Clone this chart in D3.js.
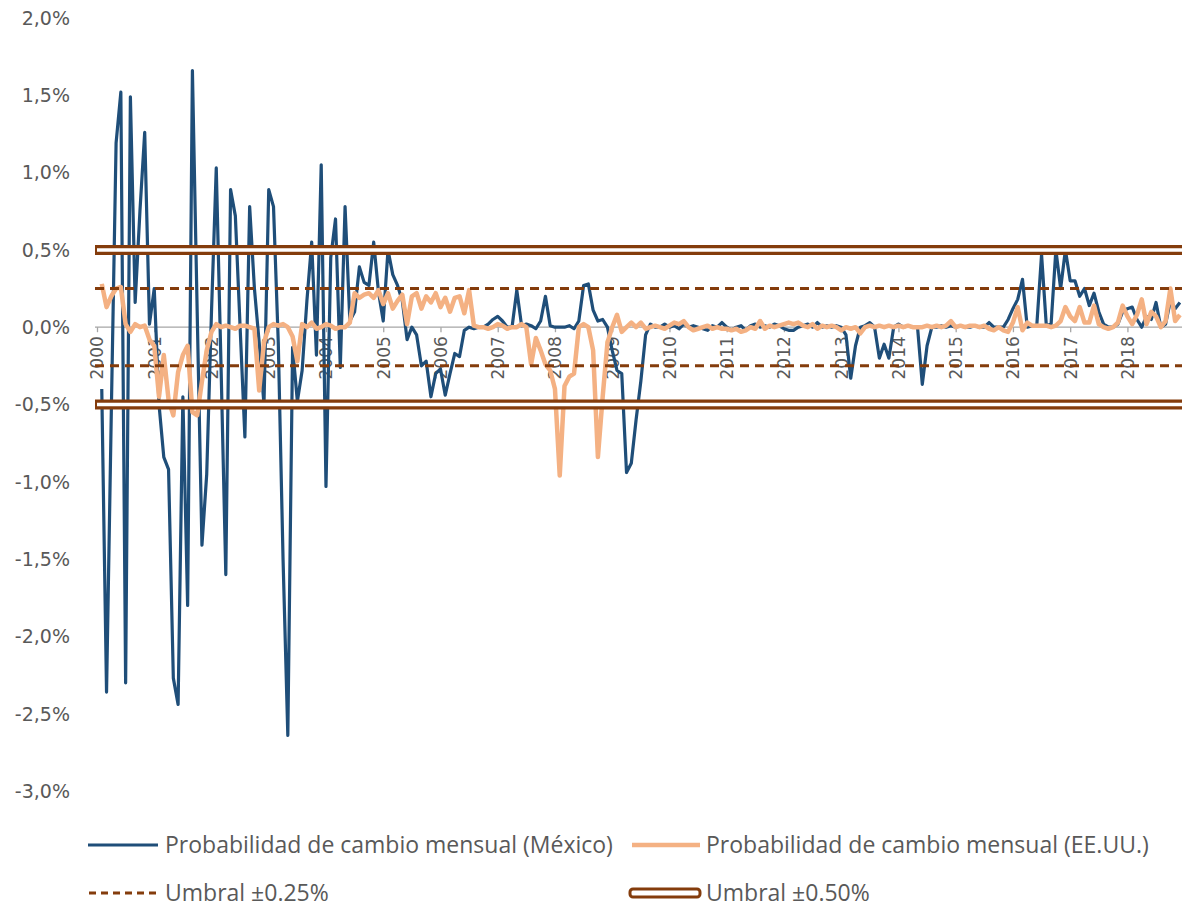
<!DOCTYPE html>
<html>
<head>
<meta charset="utf-8">
<script src="https://cdn.jsdelivr.net/npm/d3@7"></script>
<style>
  html, body { margin: 0; padding: 0; background: #ffffff; }
  svg { display: block; }
</style>
</head>
<body>
<div id="chart"></div>
<script>
// ---------- DATA (monthly, starting Feb 2000) ----------
const startYear = 2000;
const startMonthOffset = 1; // first value = Feb 2000 (month index 1 from Jan 2000)

const mexico = [
  -0.40,-2.36,-0.55,1.19,1.52,-2.30,1.49,0.16,0.75,1.26,0.02,0.25,
  -0.50,-0.84,-0.92,-2.27,-2.44,-0.45,-1.80,1.66,0.10,-1.41,-0.95,0.10,
  1.03,-0.25,-1.60,0.89,0.72,0.00,-0.71,0.78,0.25,-0.10,-0.50,0.89,
  0.78,-0.10,-1.50,-2.64,-0.13,-0.48,-0.28,0.17,0.55,-0.18,1.05,-1.03,
  0.45,0.70,-0.26,0.78,0.04,0.10,0.39,0.29,0.27,0.55,0.23,0.04,
  0.50,0.34,0.27,0.17,-0.08,0.00,-0.05,-0.25,-0.22,-0.45,-0.30,-0.27,
  -0.44,-0.30,-0.17,-0.19,-0.02,0.00,-0.01,0.00,0.00,0.02,0.05,0.07,
  0.04,0.00,0.00,0.24,0.01,0.02,0.01,-0.01,0.04,0.20,0.01,0.00,
  0.00,0.00,0.01,-0.01,0.04,0.27,0.28,0.11,0.04,0.05,0.00,-0.15,
  -0.28,-0.30,-0.94,-0.88,-0.60,-0.35,-0.05,0.02,0.00,
  0.00,0.02,0.00,0.01,-0.01,0.02,0.00,0.01,0.00,-0.01,-0.02,0.01,
  0.00,0.03,0.00,-0.02,0.00,0.01,-0.02,0.01,0.02,0.00,0.01,0.00,
  0.02,0.01,-0.01,-0.02,-0.02,0.00,0.01,0.02,0.00,0.03,0.00,0.01,
  0.00,0.01,0.00,-0.05,-0.33,-0.12,0.00,0.01,0.03,0.00,-0.20,-0.11,
  -0.20,0.00,0.02,0.00,0.01,0.00,0.00,-0.37,-0.12,0.00,0.00,0.01,
  0.00,0.01,0.00,0.01,0.00,0.00,0.01,0.00,0.00,0.03,0.00,
  0.00,0.00,0.05,0.12,0.18,0.31,0.00,0.01,0.01,0.47,0.01,0.02,
  0.50,0.25,0.50,0.30,0.30,0.20,0.25,0.14,0.22,0.10,0.02,0.00,
  0.00,0.02,0.10,0.12,0.13,0.05,0.00,0.07,0.05,0.16,0.00,0.02,
  0.17,0.12,0.16
];

const usa = [
  0.28,0.13,0.20,0.25,0.26,0.02,-0.03,0.02,0.00,0.01,-0.08,-0.12,
  -0.45,-0.18,-0.47,-0.57,-0.29,-0.18,-0.12,-0.55,-0.57,-0.35,-0.15,-0.03,
  0.02,0.00,0.01,0.00,-0.01,0.01,0.01,0.00,-0.01,-0.41,-0.10,0.00,
  0.02,0.01,0.02,0.00,-0.06,-0.22,0.02,0.00,0.03,-0.01,0.00,0.02,
  0.01,-0.01,0.00,0.00,0.03,0.22,0.19,0.21,0.22,0.19,0.24,0.15,
  0.22,0.12,0.17,0.21,0.02,0.20,0.22,0.12,0.20,0.16,0.22,0.13,
  0.19,0.10,0.19,0.20,0.09,0.24,0.01,0.00,0.00,-0.01,0.00,0.02,
  0.01,-0.01,0.00,0.00,0.02,0.00,-0.24,-0.07,-0.15,-0.24,-0.28,-0.40,
  -0.96,-0.38,-0.32,-0.30,0.00,0.02,0.00,-0.15,-0.84,-0.45,-0.10,0.00,
  0.08,-0.03,0.00,0.03,0.00,0.03,-0.01,0.00,0.01,
  0.00,-0.01,0.01,0.03,0.02,0.04,0.00,-0.02,-0.01,0.00,0.01,-0.01,
  0.00,-0.01,-0.01,-0.02,-0.01,-0.03,-0.02,0.00,-0.01,0.04,-0.01,0.01,
  0.00,0.01,0.02,0.03,0.02,0.03,0.01,0.00,0.02,-0.01,0.01,0.00,
  0.01,0.00,-0.02,0.00,-0.01,0.00,-0.04,0.00,0.01,0.00,0.01,0.00,
  0.01,0.00,0.01,0.00,0.01,0.00,0.00,0.00,0.01,0.00,0.01,0.00,
  0.01,0.04,0.00,0.01,0.00,0.01,0.01,0.00,0.01,-0.01,-0.02,
  0.00,-0.02,-0.03,0.03,0.13,-0.02,0.03,0.01,0.01,0.01,0.01,0.00,
  0.01,0.04,0.13,0.07,0.04,0.13,0.03,0.03,0.14,0.02,0.00,-0.01,
  0.00,0.03,0.14,0.07,0.02,0.08,0.18,0.02,0.10,0.07,0.00,0.04,
  0.25,0.04,0.08
];

const yTicks = [2.0, 1.5, 1.0, 0.5, 0.0, -0.5, -1.0, -1.5, -2.0, -2.5, -3.0];
const yearTicks = d3.range(2000, 2019);
const thresholdInner = 0.25;
const thresholdOuter = 0.50;
const legendLabels = [
  "Probabilidad de cambio mensual (México)",
  "Probabilidad de cambio mensual (EE.UU.)",
  "Umbral \u00b10.25%",
  "Umbral \u00b10.50%"
];

// ---------- STYLE ----------
const W = 1182, H = 907;
const cBlue = "#1f4e79", cOrange = "#f4b183", cBrown = "#843c0c", cText = "#595959", cAxis = "#a6a6a6";
const plotLeft = 95, plotRight = 1182;

const svg = d3.select("#chart").append("svg")
  .attr("width", W).attr("height", H)
  .style("font-family", "'DejaVu Sans', sans-serif");

const x = d3.scaleLinear().domain([0, 227.44]).range([97, 1182]);
const y = d3.scaleLinear().domain([-3, 2]).range([791, 18]);

svg.append("defs").append("clipPath").attr("id", "clip")
  .append("rect").attr("x", plotLeft).attr("y", 0).attr("width", plotRight - plotLeft).attr("height", H);

// y labels
const yFmt = v => d3.format(".1f")(v).replace(".", ",").replace("−", "-") + "%";
svg.append("g").selectAll("text").data(yTicks).join("text")
  .attr("x", 70).attr("y", d => y(d)).attr("dy", "0.36em")
  .attr("text-anchor", "end").attr("fill", cText).style("font-size", "19px")
  .text(yFmt);

// x axis line at 0
const y0 = y(0);
svg.append("line").attr("x1", plotLeft).attr("x2", plotRight).attr("y1", y0).attr("y2", y0)
  .attr("stroke", cAxis).attr("stroke-width", 1.3);

const xAxis = d3.axisBottom(x)
  .tickValues(yearTicks.map(yr => (yr - startYear) * 12))
  .tickSize(5)
  .tickFormat((d) => String(startYear + d / 12));
const gx = svg.append("g").attr("transform", `translate(0,${y0})`).call(xAxis);
gx.select(".domain").remove();
gx.selectAll(".tick line").attr("stroke", cAxis).attr("stroke-width", 1.3);
gx.selectAll(".tick text")
  .attr("fill", cText).style("font-size", "17px").style("font-family", "'DejaVu Sans', sans-serif")
  .attr("transform", "rotate(-90)")
  .attr("text-anchor", "end")
  .attr("x", -9).attr("y", 0).attr("dy", "0.35em");

// series
const line = d3.line()
  .x((d, i) => x(i + startMonthOffset))
  .y(d => y(d));

const plot = svg.append("g").attr("clip-path", "url(#clip)");
plot.append("path").datum(mexico).attr("d", line)
  .attr("fill", "none").attr("stroke", cBlue).attr("stroke-width", 3.2).attr("stroke-linejoin", "round");
plot.append("path").datum(usa).attr("d", line)
  .attr("fill", "none").attr("stroke", cOrange).attr("stroke-width", 4.5).attr("stroke-linejoin", "round");

// thresholds
[thresholdInner, -thresholdInner].forEach(t => {
  svg.append("line").attr("x1", plotLeft).attr("x2", plotRight).attr("y1", y(t)).attr("y2", y(t))
    .attr("stroke", cBrown).attr("stroke-width", 3).attr("stroke-dasharray", "9,6");
});
[thresholdOuter, -thresholdOuter].forEach(t => {
  svg.append("line").attr("x1", plotLeft).attr("x2", plotRight).attr("y1", y(t)).attr("y2", y(t))
    .attr("stroke", cBrown).attr("stroke-width", 10);
  svg.append("line").attr("x1", plotLeft + 2).attr("x2", plotRight).attr("y1", y(t)).attr("y2", y(t))
    .attr("stroke", "#ffffff").attr("stroke-width", 3.5);
});

// legend
const lg = svg.append("g").style("font-family", "'Open Sans', sans-serif").style("font-size", "23px").attr("fill", cText);
const r1 = 845, r2 = 893;
lg.append("line").attr("x1", 88).attr("x2", 158).attr("y1", r1).attr("y2", r1).attr("stroke", cBlue).attr("stroke-width", 3);
lg.append("text").attr("x", 165).attr("y", r1).attr("dy", "0.35em").text(legendLabels[0]);
lg.append("line").attr("x1", 632).attr("x2", 700).attr("y1", r1).attr("y2", r1).attr("stroke", cOrange).attr("stroke-width", 4.5);
lg.append("text").attr("x", 706).attr("y", r1).attr("dy", "0.35em").text(legendLabels[1]);
lg.append("line").attr("x1", 89).attr("x2", 158).attr("y1", r2).attr("y2", r2).attr("stroke", cBrown).attr("stroke-width", 3).attr("stroke-dasharray", "7,5");
lg.append("text").attr("x", 165).attr("y", r2).attr("dy", "0.35em").text(legendLabels[2]);
lg.append("rect").attr("x", 630).attr("y", r2 - 4).attr("width", 70).attr("height", 8).attr("rx", 3)
  .attr("fill", "#ffffff").attr("stroke", cBrown).attr("stroke-width", 3);
lg.append("text").attr("x", 706).attr("y", r2).attr("dy", "0.35em").text(legendLabels[3]);
</script>
</body>
</html>
